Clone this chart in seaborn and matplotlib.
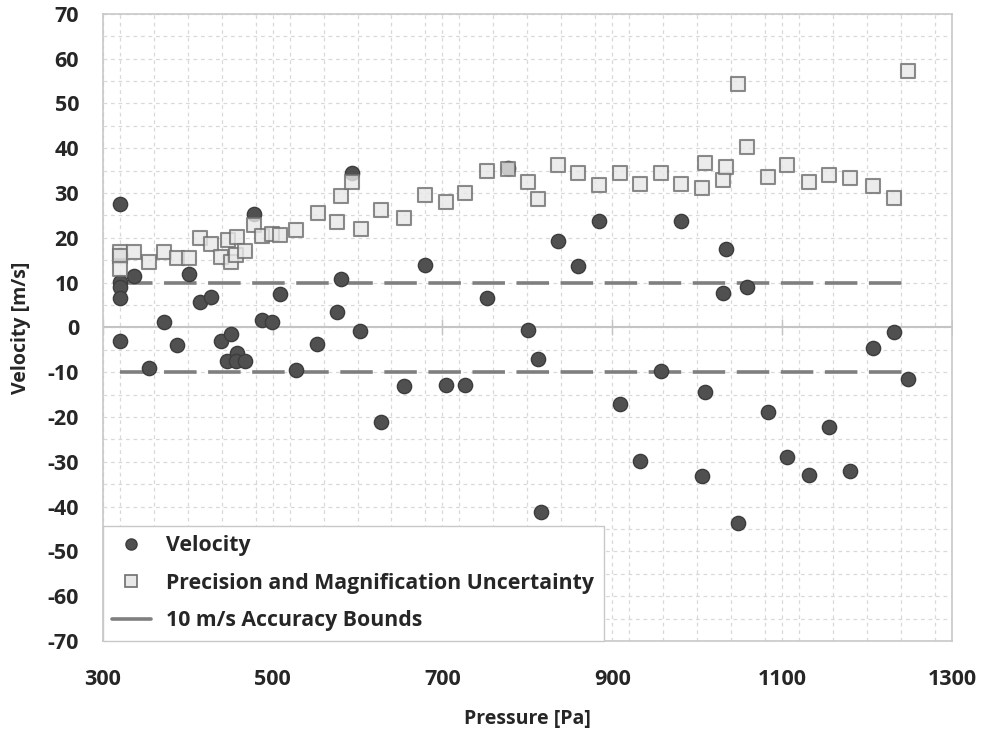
import matplotlib
matplotlib.use("Agg")
import matplotlib.pyplot as plt
import seaborn as sns
import pandas as pd
from matplotlib.lines import Line2D
from matplotlib.ticker import MultipleLocator

# ---- data ----
vel_pressure = [320, 320, 320, 320, 320, 320,
                337, 355, 372, 387, 402, 415, 428, 439, 446, 451, 458, 457, 468,
                478, 488, 499, 509, 528, 552, 576, 581, 593, 603, 628, 655, 680,
                704, 727, 753, 777, 801, 812, 816, 836, 860, 884, 909, 933, 957,
                981, 1005, 1009, 1030, 1034, 1048, 1058, 1083, 1106, 1131, 1155,
                1180, 1207, 1232, 1248]
vel_velocity = [27.5, 16.2, 10.2, 9.1, 6.6, -3.0,
                11.5, -9.1, 1.3, -3.9, 12.0, 5.6, 6.8, -3.0, -7.4, -1.5, -5.8, -7.5, -7.4,
                25.2, 1.6, 1.3, 7.4, -9.6, -3.6, 3.4, 10.8, 34.4, -0.7, -21.1, -13.0, 13.9,
                -12.9, -12.8, 6.6, 35.5, -0.6, -7.1, -41.2, 19.3, 13.8, 23.7, -17.0, -29.8, -9.7,
                23.7, -33.2, -14.4, 7.7, 17.5, -43.6, 9.1, -18.8, -28.9, -32.9, -22.2,
                -32.1, -4.7, -1.1, -11.6]

unc_pressure = [320, 320, 320,
                337, 355, 372, 387, 402, 415, 428, 439, 447, 451, 458, 457, 468,
                478, 488, 499, 509, 528, 553, 576, 581, 593, 604, 628, 655, 680,
                704, 727, 753, 777, 801, 812, 836, 860, 884, 909, 933, 957,
                981, 1005, 1009, 1030, 1034, 1048, 1058, 1083, 1106, 1131, 1155,
                1180, 1207, 1232, 1248]
unc_value = [16.8, 16.0, 13.0,
             16.9, 14.5, 16.9, 15.5, 15.5, 19.9, 18.6, 15.6, 19.5, 14.5, 20.2, 16.1, 17.1,
             22.8, 20.4, 20.8, 20.6, 21.7, 25.6, 23.5, 29.3, 32.4, 21.9, 26.2, 24.4, 29.6,
             28.0, 29.9, 34.9, 35.3, 32.5, 28.7, 36.2, 34.5, 31.8, 34.5, 32.0, 34.4,
             31.9, 31.2, 36.7, 33.0, 35.9, 54.3, 40.2, 33.6, 36.3, 32.4, 34.0,
             33.4, 31.6, 28.8, 57.2]

bound_pressure = [320, 1248]
bound_upper = [10, 10]
bound_lower = [-10, -10]

x_ticks = [300, 500, 700, 900, 1100, 1300]
y_ticks = list(range(-70, 71, 10))

legend_labels = ["Velocity", "Precision and Magnification Uncertainty",
                 "10 m/s Accuracy Bounds"]

vel_df = pd.DataFrame({"Pressure": vel_pressure, "Velocity": vel_velocity})
unc_df = pd.DataFrame({"Pressure": unc_pressure, "Uncertainty": unc_value})
up_df = pd.DataFrame({"Pressure": bound_pressure, "Bound": bound_upper})
lo_df = pd.DataFrame({"Pressure": bound_pressure, "Bound": bound_lower})

# ---- style ----
sns.set_theme(style="white")
plt.rcParams["font.family"] = ["Open Sans", "DejaVu Sans"]
plt.rcParams["font.weight"] = "bold"
plt.rcParams["axes.unicode_minus"] = False

fig = plt.figure(figsize=(9.81, 7.42), dpi=100)
ax = fig.add_axes([0.1047, 0.1361, 0.8658, 0.8454])

grid_c = "#d9d9d9"
spine_c = "#c8c8c8"
line_c = "#7f7f7f"

# accuracy bounds
sns.lineplot(data=up_df, x="Pressure", y="Bound", ax=ax, color=line_c, lw=2.6,
             linestyle=(0, (9, 3.2)), zorder=2, legend=False)
sns.lineplot(data=lo_df, x="Pressure", y="Bound", ax=ax, color=line_c, lw=2.6,
             linestyle=(0, (9, 3.2)), zorder=2, legend=False)

# series
sns.scatterplot(data=vel_df, x="Pressure", y="Velocity", ax=ax, marker="o", s=105,
                color="#505050", edgecolor="#3c3c3c", linewidth=1.0, zorder=3,
                legend=False)
sns.scatterplot(data=unc_df, x="Pressure", y="Uncertainty", ax=ax, marker="s", s=95,
                color="#e8e8e8", alpha=0.8, edgecolor="#6e6e6e", linewidth=1.5,
                zorder=4, legend=False)

# zero axis line with crossing ticks
ax.axhline(0, color="#c4c4c4", lw=1.5, zorder=1)
ax.plot(x_ticks, [0] * len(x_ticks), ls="none", marker="|", ms=11, mew=1.0,
        color="#c4c4c4", zorder=1)

ax.set_xlim(300, 1300)
ax.set_ylim(-70, 70)
ax.set_xticks(x_ticks)
ax.set_yticks(y_ticks)
ax.xaxis.set_minor_locator(MultipleLocator(40))
ax.yaxis.set_minor_locator(MultipleLocator(5))
ax.set_axisbelow(True)
ax.grid(which="both", color=grid_c, lw=0.9, linestyle=(0, (3, 3)))

for s in ax.spines.values():
    s.set_color(spine_c)
    s.set_linewidth(1.2)

ax.tick_params(axis="x", which="both", length=0, pad=20, labelsize=15.5)
ax.tick_params(axis="y", which="major", length=5, direction="in", color=spine_c,
               pad=17, labelsize=15.5)
ax.tick_params(axis="y", which="minor", length=0)
for lab in ax.get_xticklabels() + ax.get_yticklabels():
    lab.set_fontweight("bold")

ax.set_xlabel("Pressure [Pa]", fontsize=14, fontweight="bold", labelpad=14)
ax.set_ylabel("Velocity [m/s]", fontsize=14, fontweight="bold", labelpad=12)

handles = [
    Line2D([], [], marker="o", ls="none", color="#505050", mec="#3c3c3c", ms=8),
    Line2D([], [], marker="s", ls="none", mfc="#e8e8e8", mec="#6e6e6e", ms=8, mew=1.2),
    Line2D([], [], color=line_c, lw=2.6),
]
leg = ax.legend(handles, legend_labels, loc="lower left", bbox_to_anchor=(0, 0),
                borderaxespad=0, frameon=True, fancybox=False, framealpha=1,
                prop={"weight": "bold", "size": 15.3}, handlelength=1.8,
                handletextpad=0.75, labelspacing=0.78, borderpad=0.45)
leg.get_frame().set_edgecolor("#c8c8c8")
leg.get_frame().set_linewidth(1.0)
leg.set_zorder(10)

fig.savefig("out.png", dpi=100)
